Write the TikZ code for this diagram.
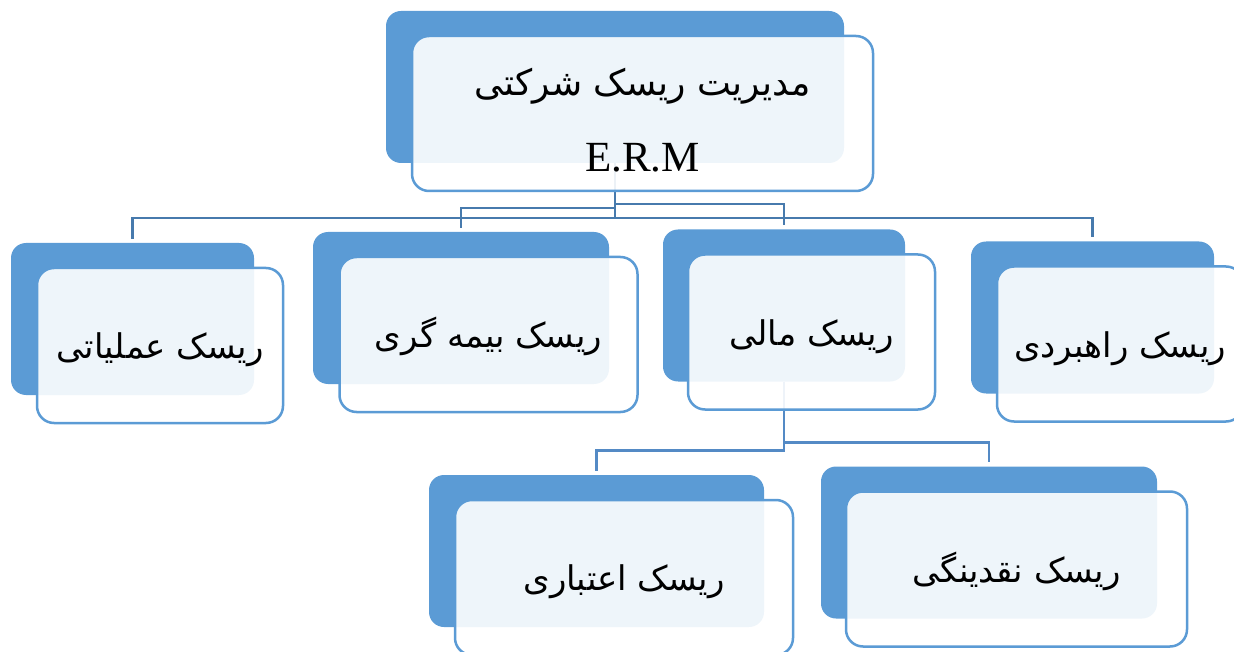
\documentclass[tikz,border=0pt]{standalone}
\usepackage{fontspec}
\setmainfont{Liberation Serif}
\newfontfamily\farsifont[Script=Arabic]{DejaVu Sans}
\TeXXeTstate=1
\usetikzlibrary{positioning}
\definecolor{accent}{RGB}{91,155,213}
\definecolor{linkblue}{RGB}{71,122,173}
\definecolor{sublink}{RGB}{84,138,197}

\begin{document}
\begin{tikzpicture}[x=1pt,y=-1pt]
\tikzstyle{darkbox} = [rectangle, rounded corners=15pt, fill=accent, minimum height=152pt, inner sep=0pt]
\tikzstyle{lightbox} = [rectangle, rounded corners=17pt, draw=accent, line width=2.5pt, fill=white, fill opacity=0.9, text opacity=1, minimum height=155pt, font=\farsifont\fontsize{34}{40}\selectfont]
\tikzstyle{leaf} = [lightbox, text height=32pt, text depth=6pt]
\tikzstyle{link} = [line width=2.5pt, draw=linkblue, shorten >=4pt]

\clip (0,0) rectangle (1234,652);

% back boxes
\node[darkbox, minimum width=458pt] (ermb) at (615,87) {};
\node[darkbox, minimum width=243pt] (amalb) at (132.5,319) {};
\node[darkbox, minimum width=296pt] (bimeb) at (461,308) {};
\node[darkbox, minimum width=242pt] (malib) at (784,305.5) {};
\node[darkbox, minimum width=243pt] (rahbb) at (1092.5,317.5) {};
\node[darkbox, minimum width=335pt] (etebb) at (596.5,551) {};
\node[darkbox, minimum width=336pt] (naqdb) at (989,542.5) {};

% links
\draw[link] (ermb.south) -- ++(0,55) -| (amalb.north);
\draw[link] (ermb.south) -- ++(0,55) -| (rahbb.north);
\draw[link] (ermb.south) -- ++(0,45) -| (bimeb.north);
\draw[link] (ermb.south) -- ++(0,41) -| (malib.north);
\draw[link, draw=sublink] (malib.south) -- ++(0,69) -| (etebb.north);
\draw[link, draw=sublink] (malib.south) -- ++(0,61) -| (naqdb.north);

% front boxes
\node[lightbox, minimum width=461pt, align=center, font=\fontsize{43}{76}\selectfont] (erm) at ([shift={(27.5,26.5)}]ermb.center) {{\farsifont\fontsize{36}{40}\selectfont\rule{0pt}{41pt}\beginR مدیریت ریسک شرکتی\endR}\\E.R.M};
\node[leaf, minimum width=246pt] (amal) at ([shift={(27.5,26.5)}]amalb.center) {\beginR ریسک عملیاتی\endR};
\node[leaf, minimum width=298pt] (bime) at ([shift={(27.5,26.5)}]bimeb.center) {\beginR ریسک بیمه گری\endR};
\node[leaf, minimum width=247pt] (mali) at ([shift={(27.5,26.5)}]malib.center) {\beginR ریسک مالی\endR};
\node[leaf, minimum width=246pt] (rahbord) at ([shift={(27.5,26.5)}]rahbb.center) {\beginR ریسک راهبردی\endR};
\node[leaf, minimum width=338pt] (etebar) at ([shift={(27.5,26.5)}]etebb.center) {\beginR ریسک اعتباری\endR};
\node[leaf, minimum width=341pt] (naqdi) at ([shift={(27.5,26.5)}]naqdb.center) {\beginR ریسک نقدینگی\endR};

\end{tikzpicture}
\end{document}
